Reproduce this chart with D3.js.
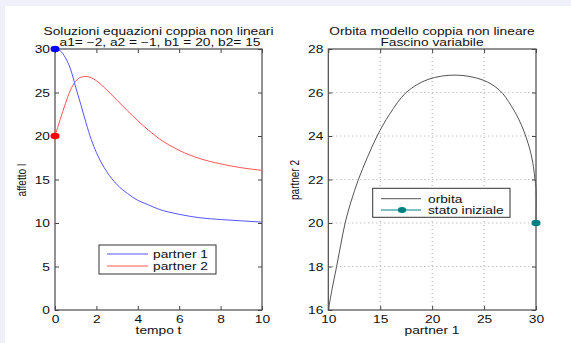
<!DOCTYPE html>
<html><head><meta charset="utf-8">
<script src="https://cdn.jsdelivr.net/npm/d3@7"></script>
<style>
html,body{margin:0;padding:0;background:#f0f0fb;}
svg{display:block;}
text{font-family:"Liberation Sans",Arial,Helvetica,sans-serif;fill:#111;}
</style></head>
<body>
<svg id="c" width="571" height="343"></svg>
<script>
// ---- data: left panel (time series) ----
const time     = [0, 0.25, 0.5, 0.75, 1, 1.25, 1.5, 1.75, 2, 2.5, 3, 3.5, 4, 4.5, 5, 6, 7, 8, 9, 10];
const partner1 = [30, 29.8, 29.0, 27.7, 25.6, 23.6, 21.5, 19.6, 18.1, 15.9, 14.4, 13.4, 12.6, 12.1, 11.6, 11.0, 10.6, 10.4, 10.25, 10.1];
const partner2 = [20, 21.9, 23.7, 25.3, 26.3, 26.75, 26.85, 26.7, 26.35, 25.3, 24.1, 22.9, 21.75, 20.7, 19.75, 18.35, 17.4, 16.8, 16.35, 16.05];
const timeTicks = [0, 2, 4, 6, 8, 10];
const affTicks  = [0, 5, 10, 15, 20, 25, 30];
// ---- data: right panel (orbit) ----
const orbitP1 = [30, 30, 29.9, 29.75, 29.4, 28.6, 27.6, 26.5, 24.9, 22.3, 19.6, 17.5, 15.9, 14.7, 13.75, 12.9, 12.2, 11.62, 11.2, 10.8, 10.38, 10];
const orbitP2 = [20, 21.6, 22.0, 22.6, 23.4, 24.5, 25.4, 26.1, 26.57, 26.8, 26.6, 26.0, 25.0, 24.0, 23.0, 22.0, 21.0, 20.0, 19.0, 18.0, 17.0, 16];
const initState = [30, 20];
const p1Ticks = [10, 15, 20, 25, 30];
const p2Ticks = [16, 18, 20, 22, 24, 26, 28];
const titlesL = ["Soluzioni equazioni coppia non lineari", "a1= \u22122, a2 = \u22121, b1 = 20, b2= 15"];
const titlesR = ["Orbita modello coppia non lineare", "Fascino variabile"];
const legendL = ["partner 1", "partner 2"];
const legendR = ["orbita", "stato iniziale"];

const SX = 1.25; // horizontal stretch of the original picture
const svg = d3.select("#c");
svg.append("rect").attr("x",5).attr("y",6).attr("width",566).attr("height",337).attr("fill","#fff");

function txt(g, x, y, s, anchor, size, rot, sx){
  return g.append("text")
    .attr("transform", `translate(${x},${y}) scale(${sx||SX},1)` + (rot ? " rotate(-90)" : ""))
    .attr("text-anchor", anchor).style("font-size", size + "px").text(s);
}
function styleAxis(g){
  g.select(".domain").remove();
  g.selectAll(".tick line").attr("stroke","#444");
  g.selectAll(".tick text").style("font-size","11px").style("font-family",'"Liberation Sans",Arial,sans-serif').attr("fill","#111")
    .attr("transform",`scale(${SX},1)`)
    .attr("x", function(){ return (+this.getAttribute("x")||0)/SX; });
}
function frame(x, y, opts){
  const [x0,x1] = x.range(), [y1,y0] = y.range();
  const g = svg.append("g");
  g.append("g").attr("transform",`translate(0,${y1})`).call(d3.axisBottom(x).tickValues(opts.xt).tickSize(-4).tickPadding(9).tickSizeOuter(0)).call(styleAxis);
  g.append("g").attr("transform",`translate(${x0},0)`).call(d3.axisLeft(y).tickValues(opts.yt).tickSize(-4).tickPadding(5).tickSizeOuter(0)).call(styleAxis);
  g.append("g").attr("transform",`translate(0,${y0})`).call(d3.axisTop(x).tickValues(opts.xt).tickSize(-4).tickFormat("").tickSizeOuter(0)).call(styleAxis);
  g.append("g").attr("transform",`translate(${x1},0)`).call(d3.axisRight(y).tickValues(opts.yt).tickSize(-4).tickFormat("").tickSizeOuter(0)).call(styleAxis);
  g.append("rect").attr("x",x0).attr("y",y0).attr("width",x1-x0).attr("height",y1-y0)
    .attr("fill","none").attr("stroke","#4a4a4a").attr("stroke-width",1.2);
  g.selectAll("text").each(function(){
    const t = d3.select(this);
    if (+t.attr("y") > 0) t.attr("y", 13).attr("dy", null); else t.attr("dy","0.35em");
  });
  return g;
}

// ---------- LEFT PANEL ----------
const xL = d3.scaleLinear().domain([0,10]).range([55,262]);
const yL = d3.scaleLinear().domain([0,30]).range([310,49]);
frame(xL, yL, {xt: timeTicks, yt: affTicks});
const lineL = (vals) => d3.line().x((d,i)=>xL(time[i])).y(d=>yL(d)).curve(d3.curveMonotoneX)(vals);
svg.append("path").attr("d", lineL(partner2)).attr("fill","none").attr("stroke","rgb(255,85,85)").attr("stroke-width",1);
svg.append("path").attr("d", lineL(partner1)).attr("fill","none").attr("stroke","rgb(85,85,255)").attr("stroke-width",1);
svg.append("ellipse").attr("cx",xL(time[0])).attr("cy",yL(partner1[0])).attr("rx",4.5).attr("ry",3.3).attr("fill","#0000ff");
svg.append("ellipse").attr("cx",xL(time[0])).attr("cy",yL(partner2[0])).attr("rx",4.5).attr("ry",3.3).attr("fill","#ff0000");
txt(svg, 158.5, 34.5, titlesL[0], "middle", 10, false, 1.375);
txt(svg, 160, 45.5, titlesL[1], "middle", 10, false, 1.375);
txt(svg, 158.5, 334, "tempo t", "middle", 11);
txt(svg, 26, 180, "affetto I", "middle", 10, true);
// legend
const lgL = svg.append("g");
lgL.append("rect").attr("x",99).attr("y",245).attr("width",117).attr("height",29).attr("fill","#fff").attr("stroke","#333").attr("stroke-width",1);
[["rgb(85,85,255)",254],["rgb(255,85,85)",266]].forEach(([c,yy],i)=>{
  lgL.append("line").attr("x1",107).attr("x2",148).attr("y1",yy).attr("y2",yy).attr("stroke",c);
  txt(lgL, 153, yy+4, legendL[i], "start", 11);
});

// ---------- RIGHT PANEL ----------
const xR = d3.scaleLinear().domain([10,30]).range([328.3,536]);
const yR = d3.scaleLinear().domain([16,28]).range([310,49]);
const grid = svg.append("g").attr("stroke","#aaa").attr("stroke-dasharray","1,3").attr("stroke-width",1);
p1Ticks.slice(1,-1).forEach(v=>grid.append("line").attr("x1",xR(v)).attr("x2",xR(v)).attr("y1",49).attr("y2",310));
p2Ticks.slice(1,-1).forEach(v=>grid.append("line").attr("y1",yR(v)).attr("y2",yR(v)).attr("x1",328.3).attr("x2",536));
frame(xR, yR, {xt: p1Ticks, yt: p2Ticks});
const orbit = d3.line().x((d,i)=>xR(orbitP1[i])).y(d=>yR(d)).curve(d3.curveCatmullRom.alpha(0.5));
svg.append("path").attr("d", orbit(orbitP2)).attr("fill","none").attr("stroke","#555").attr("stroke-width",1);
svg.append("ellipse").attr("cx",xR(initState[0])).attr("cy",yR(initState[1])).attr("rx",4.5).attr("ry",3.3).attr("fill","#008080");
txt(svg, 432, 34.5, titlesR[0], "middle", 10, false, 1.375);
txt(svg, 432, 45.5, titlesR[1], "middle", 10, false, 1.375);
txt(svg, 432, 334, "partner 1", "middle", 11);
txt(svg, 299, 180, "partner 2", "middle", 10, true);
const lgR = svg.append("g");
lgR.append("rect").attr("x",372.7).attr("y",188.3).attr("width",137.3).attr("height",29).attr("fill","#fff").attr("stroke","#333").attr("stroke-width",1);
lgR.append("line").attr("x1",381).attr("x2",421).attr("y1",198.7).attr("y2",198.7).attr("stroke","#555");
lgR.append("line").attr("x1",381).attr("x2",421).attr("y1",210).attr("y2",210).attr("stroke","#008080");
lgR.append("ellipse").attr("cx",402).attr("cy",210).attr("rx",4.2).attr("ry",3).attr("fill","#008080");
txt(lgR, 428, 202.7, legendR[0], "start", 11);
txt(lgR, 428, 214, legendR[1], "start", 11);
</script>
</body></html>
